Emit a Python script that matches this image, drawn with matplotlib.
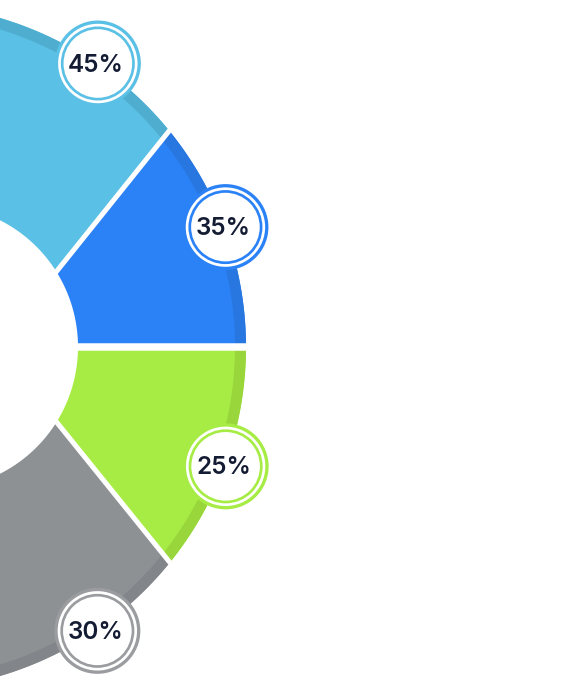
import numpy as np
import matplotlib
matplotlib.use("Agg")
import matplotlib.pyplot as plt
from matplotlib.path import Path
from matplotlib.patches import PathPatch, Wedge, Circle

# ---- data ----
categories = ["A", "B", "C", "D"]
values = [45, 35, 25, 30]
colors = ["#5BC0E5", "#2B82F6", "#A7EC45", "#8E9194"]
band_colors = ["#4FADD0", "#2877E0", "#98D63C", "#828589"]
ring_colors = ["#5BC0E5", "#2B82F6", "#A7EC45", "#9A9C9F"]

# ---- layout (pixel space) ----
W, H = 578, 694
C_in, R_in = (-64.0, 347.0), 142.0
C_out, R_out = (-97.0, 347.0), 343.0
band_w = 11.0
F = (-4.0, 347.0)
# slice angular spans (screen degrees, ccw) measured from F
spans = [(51.3, 175.0), (0.0, 51.3), (-51.1, 0.0), (-175.0, -51.1)]
gaps = [(51.3, 5.0), (0.0, 7.5), (-51.1, 5.0)]
label_angles = [55.5, 20.4, -20.3, -55.6]
label_r = 344.0

fig = plt.figure(figsize=(W / 100, H / 100), dpi=100)
ax = fig.add_axes([0, 0, 1, 1])
ax.set_xlim(0, W)
ax.set_ylim(H, 0)
ax.axis("off")


def ring_path(c1, r1, c2, r2, n=720):
    t = np.linspace(0, 2 * np.pi, n, endpoint=False)
    outer = np.column_stack([c1[0] + r1 * np.cos(t), c1[1] + r1 * np.sin(t)])
    inner = np.column_stack([c2[0] + r2 * np.cos(t[::-1]), c2[1] + r2 * np.sin(t[::-1])])
    verts = np.vstack([outer, outer[:1], inner, inner[:1]])
    codes = ([Path.MOVETO] + [Path.LINETO] * (n - 1) + [Path.CLOSEPOLY]) * 2
    return Path(verts, codes)


main_ring = ring_path(C_out, R_out, C_in, R_in)
band_ring = ring_path(C_out, R_out, C_out, R_out - band_w)

for i in range(len(values)):
    a1, a2 = spans[i]
    # y axis is inverted, so screen angle -> data angle is negated
    clip = Wedge(F, 3000, -a2, -a1, transform=ax.transData)
    p = PathPatch(main_ring, facecolor=colors[i], edgecolor="none")
    ax.add_patch(p)
    p.set_clip_path(clip)
    b = PathPatch(band_ring, facecolor=band_colors[i], edgecolor="none")
    ax.add_patch(b)
    b.set_clip_path(clip)

for ang, w in gaps:
    rad = np.deg2rad(ang)
    L = 1000
    ax.plot([F[0], F[0] + L * np.cos(rad)], [F[1], F[1] - L * np.sin(rad)],
            color="white", lw=w * 0.72, solid_capstyle="butt", zorder=3)

for i, v in enumerate(values):
    rad = np.deg2rad(label_angles[i])
    x = C_out[0] + label_r * np.cos(rad)
    y = C_out[1] - label_r * np.sin(rad)
    for r, fc in [(43, ring_colors[i]), (39.7, "white"), (37, ring_colors[i]), (34.3, "white")]:
        ax.add_patch(Circle((x, y), r, facecolor=fc, edgecolor="none", zorder=5))
    ax.text(x - 2, y + 1.5, f"{v}%", ha="center", va="center", fontsize=17.5,
            fontweight="semibold", family=["Inter", "DejaVu Sans"], color="#141C33", zorder=6)

fig.savefig("out.png", dpi=100)
